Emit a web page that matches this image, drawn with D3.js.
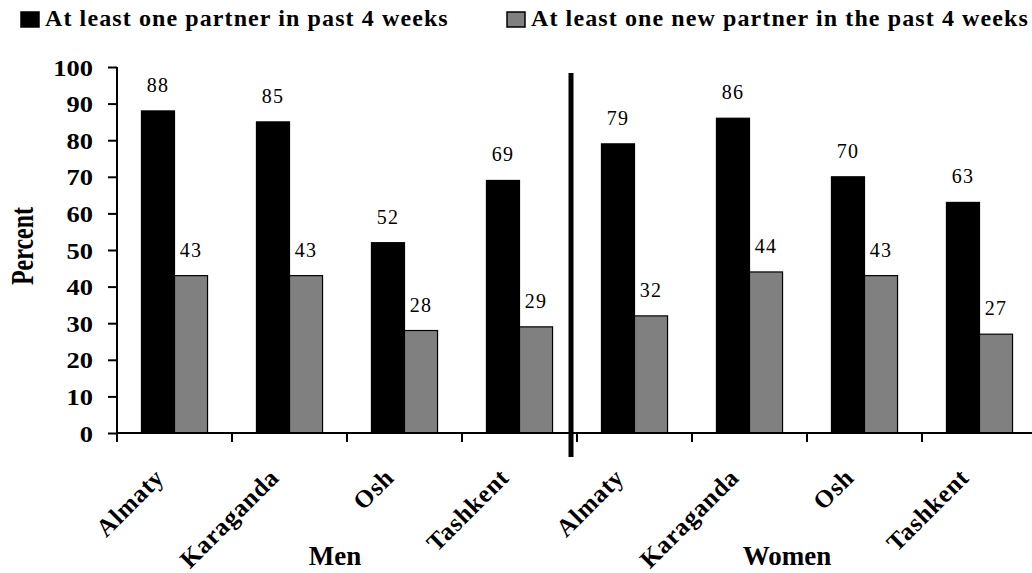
<!DOCTYPE html>
<html>
<head>
<meta charset="utf-8">
<script src="https://cdn.jsdelivr.net/npm/d3@7"></script>
<style>
  body { margin: 0; background: #fff; }
  svg { display: block; }
  text { font-family: "Liberation Serif", "Times New Roman", Times, serif; }
</style>
</head>
<body>
<svg id="chart" width="1032" height="573"></svg>
<script>
const groups = ['Men', 'Women']
const cities = ['Almaty', 'Karaganda', 'Osh', 'Tashkent']
const seriesNames = ['At least one partner in past 4 weeks', 'At least one new partner in the past 4 weeks']
const anyPartner = [88, 85, 52, 69, 79, 86, 70, 63]
const newPartner = [43, 43, 28, 29, 32, 44, 43, 27]
const yTicks = [0, 10, 20, 30, 40, 50, 60, 70, 80, 90, 100]
const colors = ['#000000', '#808080']

const serif = '"Liberation Serif", "Times New Roman", Times, serif'
const svg = d3.select('#chart').attr('font-family', serif)

const plotLeft = 117, plotRight = 1037, plotTop = 67, plotBottom = 433
// the original picture is a bit wider than tall, glyphs look stretched
const stretch = 1.15

// one slot per group/city pair
const slots = groups.flatMap(g => cities.map(c => g + '|' + c))
const rows = slots.map((s, i) => ({ slot: s, city: s.split('|')[1], values: [anyPartner[i], newPartner[i]] }))

const x0 = d3.scaleBand().domain(slots).range([plotLeft, plotRight]).padding(0)
const x1 = d3.scaleBand().domain([0, 1]).range([0, x0.bandwidth()]).paddingInner(0).paddingOuter(0.74)
const y = d3.scaleLinear().domain([0, 100]).range([plotBottom, plotTop])

// y axis
const yAxis = d3.axisLeft(y).tickValues(yTicks).tickSize(9).tickPadding(12)
const yg = svg.append('g').attr('transform', `translate(${plotLeft},0)`).call(yAxis)
  .attr('font-family', serif)
yg.select('.domain').remove()
yg.append('line').attr('x1', 0).attr('x2', 0).attr('y1', y(100)).attr('y2', y(0) + 9)
  .attr('stroke', '#000').attr('stroke-width', 2)
yg.selectAll('.tick line').attr('stroke', '#000').attr('stroke-width', 2)
yg.selectAll('.tick text').attr('fill', '#000').attr('font-size', 23).attr('font-weight', 'bold')
  .attr('dy', '0.35em').attr('transform', `scale(${stretch},1)`)

// bars
const bars = svg.append('g').selectAll('g').data(rows).join('g')
  .attr('transform', d => `translate(${x0(d.slot)},0)`)

bars.selectAll('rect').data(d => d.values.map((v, i) => ({ v, i }))).join('rect')
  .attr('x', d => x1(d.i))
  .attr('y', d => y(d.v))
  .attr('width', x1.bandwidth())
  .attr('height', d => y(0) - y(d.v))
  .attr('fill', d => colors[d.i])
  .attr('stroke', '#000')
  .attr('stroke-width', 1.2)

bars.selectAll('text').data(d => d.values.map((v, i) => ({ v, i }))).join('text')
  .attr('x', d => x1(d.i) + x1.bandwidth() / 2)
  .attr('y', d => y(d.v) - 19)
  .attr('text-anchor', 'middle')
  .attr('font-size', 20)
  .attr('letter-spacing', 1.2)
  .text(d => d.v)

// x axis
const xg = svg.append('g')
xg.append('line').attr('x1', plotLeft).attr('x2', plotRight).attr('y1', plotBottom).attr('y2', plotBottom)
  .attr('stroke', '#000').attr('stroke-width', 2)
xg.selectAll('line.tick').data(slots.slice(1)).join('line').attr('class', 'tick')
  .attr('x1', d => x0(d)).attr('x2', d => x0(d))
  .attr('y1', plotBottom).attr('y2', plotBottom + 9)
  .attr('stroke', '#000').attr('stroke-width', 2)

xg.selectAll('text').data(rows).join('text')
  .attr('transform', d => `translate(${x0(d.slot) + x0.bandwidth() / 2 - 9},${plotBottom + 46}) rotate(-45)`)
  .attr('text-anchor', 'end')
  .attr('font-size', 25)
  .attr('font-weight', 'bold')
  .attr('letter-spacing', 0.8)
  .text(d => d.city)

// group labels
svg.append('g').selectAll('text').data(groups).join('text')
  .attr('x', (g, i) => {
    const s = slots.filter(k => k.startsWith(g + '|'))
    return (x0(s[0]) + x0(s[s.length - 1]) + x0.bandwidth()) / 2 - 12 - 8 * i
  })
  .attr('y', 565)
  .attr('text-anchor', 'middle')
  .attr('font-size', 27)
  .attr('font-weight', 'bold')
  .text(g => g)

// divider between men and women
const firstWomen = slots[cities.length]
svg.append('line')
  .attr('x1', x0(firstWomen) - 6).attr('x2', x0(firstWomen) - 6)
  .attr('y1', y(100) + 6).attr('y2', plotBottom + 24)
  .attr('stroke', '#000').attr('stroke-width', 5)

// y label
svg.append('text')
  .attr('transform', `translate(33,${(plotTop + plotBottom) / 2 - 4}) scale(1.3,1) rotate(-90)`)
  .attr('text-anchor', 'middle')
  .attr('font-size', 24)
  .attr('font-weight', 'bold')
  .text('Percent')

// legend
const legendX = [21, 507]
const legend = svg.append('g').selectAll('g').data(seriesNames).join('g')
  .attr('transform', (d, i) => `translate(${legendX[i]},12)`)
legend.append('rect').attr('width', 18).attr('height', 15)
  .attr('fill', (d, i) => colors[i]).attr('stroke', '#000').attr('stroke-width', 1.5)
legend.append('text').attr('x', 24).attr('y', 14)
  .attr('font-size', 24).attr('font-weight', 'bold').attr('letter-spacing', 1.1)
  .text(d => d)
</script>
</body>
</html>
